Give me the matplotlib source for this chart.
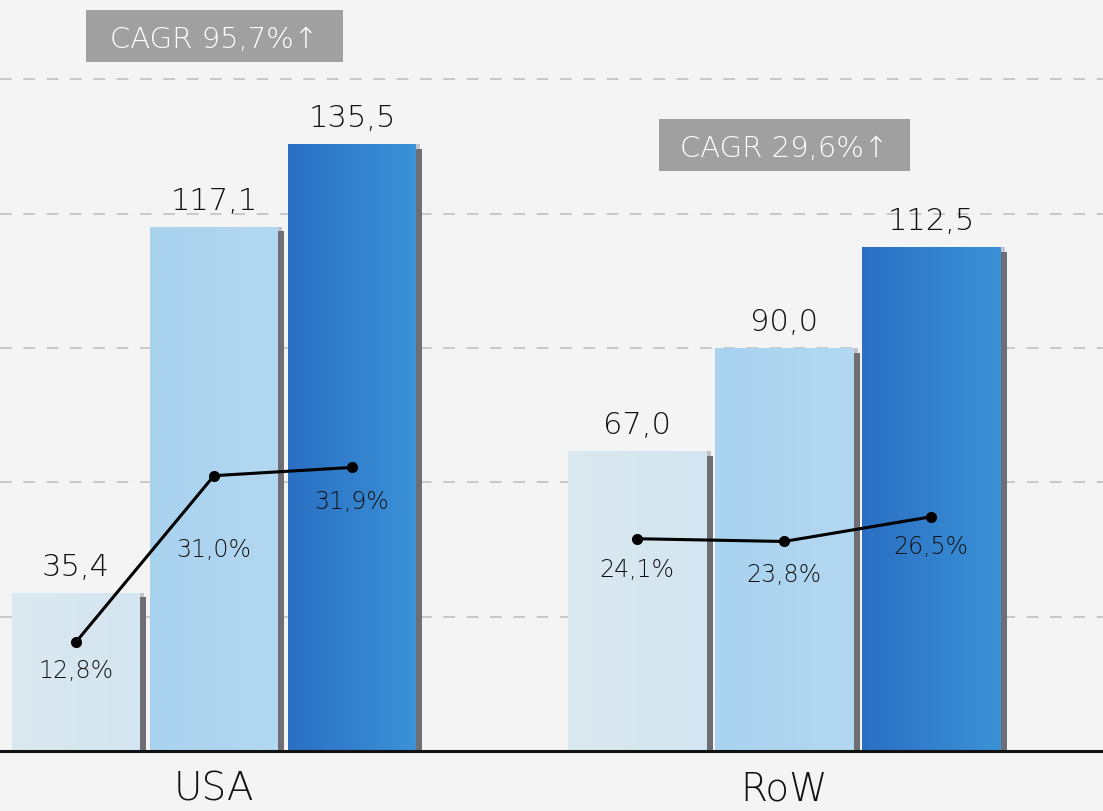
import numpy as np
import matplotlib
matplotlib.use("Agg")
import matplotlib.pyplot as plt
from matplotlib.patches import Rectangle
from matplotlib.colors import to_rgb

regions = ["USA", "RoW"]
# market size per region for three consecutive years
values = [[35.4, 117.1, 135.5], [67.0, 90.0, 112.5]]
# share of the total market, in percent
shares = [[12.8, 31.0, 31.9], [24.1, 23.8, 26.5]]
cagr = [95.7, 29.6]

plt.rcParams["font.family"] = ["DejaVu Sans"]
plt.rcParams["font.weight"] = 200

W, H = 1103, 812
bg = "#f4f4f4"
ink = "#111111"
base_px = 752            # baseline, pixels from top
px_per_unit = 4.477      # bar scale
group_px = [214, 784]    # group centres in pixels
unit_px = group_px[1] - group_px[0]
bar_w_px = [128, 139]
bar_step_px = [138, 147]

# left/right colours for each year's bar
bar_colors = [("#dbe9f1", "#d3e5f0"), ("#a9d2ef", "#b3d8f1"), ("#2a6fc3", "#3b92d7")]


def fmt(v, pct=False):
    s = f"{v:.1f}".replace(".", ",")
    return s + "%" if pct else s


fig = plt.figure(figsize=(W / 100, H / 100), dpi=100, facecolor=bg)
ax = fig.add_axes([0, (H - base_px) / H, 1, base_px / H])
ax.set_facecolor(bg)
ax2 = ax.twinx()

for g, region in enumerate(regions):
    w = bar_w_px[g] / unit_px
    step = bar_step_px[g] / unit_px
    for i, v in enumerate(values[g]):
        x = g + (i - 1) * step
        # soft shadow on the right edge
        ax.bar(x + 4 / unit_px, v, w, color="#c4c4c8", zorder=1.4, linewidth=0)
        ax.bar(x + 6 / unit_px, v - 1, w, color="#6e6e74", zorder=1.5, linewidth=0)
        bar = ax.bar(x, v, w, color=bar_colors[i][0], zorder=2, linewidth=0)[0]
        t = np.linspace(0, 1, 64)[None, :, None]
        img = (1 - t) * np.array(to_rgb(bar_colors[i][0])) + t * np.array(to_rgb(bar_colors[i][1]))
        img = np.repeat(img, 2, axis=0)
        im = ax.imshow(img, extent=(x - w / 2, x + w / 2, 0, v), aspect="auto",
                       interpolation="bilinear", zorder=2.1)
        im.set_clip_path(bar)
        ax.annotate(fmt(v), (x, v), xytext=(0, 18), textcoords="offset pixels",
                    ha="center", va="baseline", fontsize=22, color=ink, zorder=3)

# share line on the secondary axis
share_dy = [[-16, -61, -22], [-18, -21, -17]]
for g in range(len(regions)):
    step = bar_step_px[g] / unit_px
    xs = [g + (i - 1) * step for i in range(3)]
    ax2.plot(xs, shares[g], color="black", lw=2.2, marker="o", ms=7, zorder=5)
    for i, s in enumerate(shares[g]):
        ax2.annotate(fmt(s, pct=True), (xs[i], s), xytext=(0, share_dy[g][i]),
                     textcoords="offset pixels", ha="center", va="top",
                     fontsize=17, color=ink)

ax.set_xlim(-group_px[0] / unit_px, (W - group_px[0]) / unit_px)
ax.set_ylim(0, base_px / px_per_unit)
ax2.set_ylim(0.875, 0.875 + base_px / 9.14)

ax.set_yticks([30, 60, 90, 120, 150])
ax.grid(axis="y", linestyle=(0, (6, 6)), color="#c8c8c8", linewidth=1.4)
ax.set_axisbelow(True)
ax.tick_params(axis="y", length=0, labelleft=False)
ax2.tick_params(axis="y", length=0, labelright=False)
ax.set_xticks(range(len(regions)), regions)
ax.tick_params(axis="x", length=0, pad=13, labelsize=28, labelcolor=ink)
for sp in ["left", "right", "top"]:
    ax.spines[sp].set_visible(False)
    ax2.spines[sp].set_visible(False)
ax2.spines["bottom"].set_visible(False)
ax.spines["bottom"].set_linewidth(2.2)
ax.spines["bottom"].set_color(ink)

# CAGR tags above each group
box_w_px = [257, 251]
box_top_px = [11, 120]
box_h_px = 52
for g, c in enumerate(cagr):
    x0 = group_px[g] - box_w_px[g] / 2
    fig.add_artist(Rectangle((x0 / W, 1 - (box_top_px[g] + box_h_px) / H),
                             box_w_px[g] / W, box_h_px / H,
                             transform=fig.transFigure, fc="#a0a0a0", ec="none"))
    fig.text(group_px[g] / W, 1 - (box_top_px[g] + box_h_px / 2) / H,
             f"CAGR {fmt(c)}%↑", ha="center", va="center_baseline",
             fontsize=21, color="white")

fig.savefig("out.png", dpi=100, facecolor=bg)
